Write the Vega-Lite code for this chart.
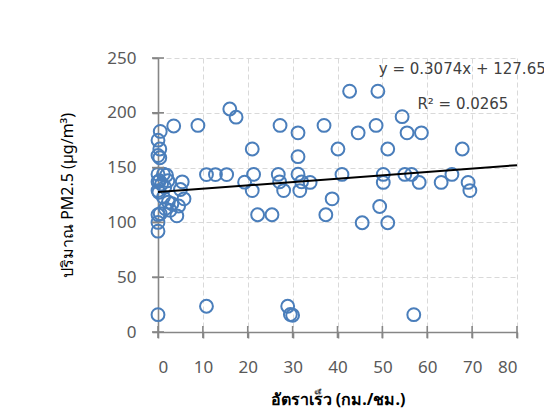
{
  "$schema": "https://vega.github.io/schema/vega-lite/v6.json",
  "autosize": "none",
  "width": 359,
  "height": 274,
  "padding": {"left": 158, "top": 58, "right": 27, "bottom": 82},
  "background": "white",
  "config": {
    "view": {"stroke": null},
    "font": "Noto Sans",
    "axis": {
      "gridColor": "#d9d9d9",
      "gridDash": [5, 3],
      "gridWidth": 1,
      "domainColor": "#868686",
      "domainWidth": 1.6,
      "tickColor": "#868686",
      "tickWidth": 1.6,
      "tickSize": 6,
      "labelFont": "Noto Sans",
      "labelFontSize": 17,
      "labelColor": "#595959",
      "titleFont": "Noto Sans",
      "titleFontSize": 16,
      "titleColor": "#000000"
    }
  },
  "datasets": {
    "obs": [
      {"speed": 0, "pm": 15.8}, {"speed": 0, "pm": 92}, {"speed": 0, "pm": 100}, {"speed": 0, "pm": 107},
      {"speed": 0.5, "pm": 108}, {"speed": 0, "pm": 175}, {"speed": 0.5, "pm": 183}, {"speed": 0.4, "pm": 167},
      {"speed": 0, "pm": 161}, {"speed": 0.4, "pm": 159}, {"speed": 0, "pm": 144}, {"speed": 1.2, "pm": 144},
      {"speed": 1.9, "pm": 143}, {"speed": 0, "pm": 137}, {"speed": 0.3, "pm": 138}, {"speed": 0.8, "pm": 135},
      {"speed": 0, "pm": 129}, {"speed": 0.2, "pm": 127.5}, {"speed": 1.5, "pm": 132}, {"speed": 1.2, "pm": 123},
      {"speed": 2.3, "pm": 118.5}, {"speed": 3.1, "pm": 117}, {"speed": 2.7, "pm": 111}, {"speed": 4.2, "pm": 106},
      {"speed": 4.6, "pm": 115}, {"speed": 5.4, "pm": 137}, {"speed": 5, "pm": 130}, {"speed": 5.8, "pm": 121.5},
      {"speed": 3.5, "pm": 188}, {"speed": 1.6, "pm": 112.6}, {"speed": 2.2, "pm": 138},
      {"speed": 8.9, "pm": 188.5}, {"speed": 10.8, "pm": 23.5}, {"speed": 10.8, "pm": 143.6}, {"speed": 12.8, "pm": 143.6},
      {"speed": 15.3, "pm": 143.6}, {"speed": 16, "pm": 203.5}, {"speed": 17.4, "pm": 196}, {"speed": 19.3, "pm": 136.7},
      {"speed": 21, "pm": 167}, {"speed": 21.3, "pm": 143.8}, {"speed": 21, "pm": 129}, {"speed": 22.2, "pm": 107},
      {"speed": 25.4, "pm": 107}, {"speed": 26.8, "pm": 143.8}, {"speed": 27.1, "pm": 137}, {"speed": 28, "pm": 129},
      {"speed": 27.2, "pm": 188.5}, {"speed": 28.9, "pm": 23.5}, {"speed": 29.5, "pm": 16}, {"speed": 30, "pm": 15.3},
      {"speed": 31.2, "pm": 181.7}, {"speed": 31.2, "pm": 160}, {"speed": 31.2, "pm": 144}, {"speed": 32, "pm": 137},
      {"speed": 31.6, "pm": 129}, {"speed": 33.9, "pm": 136.5}, {"speed": 37, "pm": 188.5}, {"speed": 37.4, "pm": 107},
      {"speed": 38.8, "pm": 121.5}, {"speed": 40.1, "pm": 167}, {"speed": 41, "pm": 143.8}, {"speed": 42.7, "pm": 219.7},
      {"speed": 44.6, "pm": 181.7}, {"speed": 45.5, "pm": 99.7}, {"speed": 48.6, "pm": 188.5}, {"speed": 49, "pm": 219.7},
      {"speed": 49.4, "pm": 114.5}, {"speed": 50.2, "pm": 143.8}, {"speed": 50.2, "pm": 136.5}, {"speed": 51.2, "pm": 167},
      {"speed": 51.2, "pm": 99.7}, {"speed": 54.4, "pm": 196.5}, {"speed": 55, "pm": 143.8}, {"speed": 56.5, "pm": 143.8},
      {"speed": 55.5, "pm": 181.7}, {"speed": 58.7, "pm": 181.7}, {"speed": 57, "pm": 15.8}, {"speed": 58.2, "pm": 136.5},
      {"speed": 63.1, "pm": 136.5}, {"speed": 65.5, "pm": 143.8}, {"speed": 67.8, "pm": 167}, {"speed": 69.1, "pm": 136.5},
      {"speed": 69.5, "pm": 129}
    ],
    "trend": [
      {"speed": 0, "pm": 127.65},
      {"speed": 80, "pm": 152.24}
    ],
    "notes": [
      {"speed": 49.2, "pm": 239.7, "label": "y = 0.3074x + 127.65"},
      {"speed": 57.8, "pm": 207.8, "label": "R² = 0.0265"}
    ],
    "xticks": [{"v": 0}, {"v": 10}, {"v": 20}, {"v": 30}, {"v": 40}, {"v": 50}, {"v": 60}, {"v": 70}, {"v": 80}],
    "yticks": [{"v": 0}, {"v": 50}, {"v": 100}, {"v": 150}, {"v": 200}, {"v": 250}]
  },
  "layer": [
    {
      "data": {"name": "obs"},
      "mark": {"type": "point", "shape": "circle", "filled": false, "stroke": "#4A7EBB", "strokeWidth": 2, "size": 165, "opacity": 1},
      "encoding": {
        "x": {
          "field": "speed", "type": "quantitative",
          "scale": {"domain": [0, 80], "nice": false, "zero": false},
          "axis": {"values": [0, 10, 20, 30, 40, 50, 60, 70, 80], "title": "อัตราเร็ว (กม./ชม.)", "titleFontWeight": "bold", "labelPadding": 21, "titlePadding": 16, "grid": true}
        },
        "y": {
          "field": "pm", "type": "quantitative",
          "scale": {"domain": [0, 250], "nice": false},
          "axis": {"values": [0, 50, 100, 150, 200, 250], "title": "ปริมาณ PM2.5 (µg/m³)", "titleFontWeight": "normal", "labelPadding": 16, "titlePadding": 31, "grid": true}
        }
      }
    },
    {
      "data": {"name": "xticks"},
      "mark": {"type": "tick", "orient": "vertical", "color": "#868686", "size": 12, "thickness": 1.6, "opacity": 1},
      "encoding": {
        "x": {"field": "v", "type": "quantitative"},
        "y": {"datum": 0, "type": "quantitative"}
      }
    },
    {
      "data": {"name": "yticks"},
      "mark": {"type": "tick", "orient": "horizontal", "color": "#868686", "size": 12, "thickness": 1.6, "opacity": 1},
      "encoding": {
        "y": {"field": "v", "type": "quantitative"},
        "x": {"datum": 0, "type": "quantitative"}
      }
    },
    {
      "data": {"name": "trend"},
      "mark": {"type": "line", "color": "#000000", "strokeWidth": 2},
      "encoding": {
        "x": {"field": "speed", "type": "quantitative"},
        "y": {"field": "pm", "type": "quantitative"}
      }
    },
    {
      "data": {"name": "notes"},
      "mark": {"type": "text", "align": "left", "baseline": "middle", "fontSize": 15, "color": "#404040", "font": "DejaVu Sans"},
      "encoding": {
        "x": {"field": "speed", "type": "quantitative"},
        "y": {"field": "pm", "type": "quantitative"},
        "text": {"field": "label", "type": "nominal"}
      }
    }
  ]
}
